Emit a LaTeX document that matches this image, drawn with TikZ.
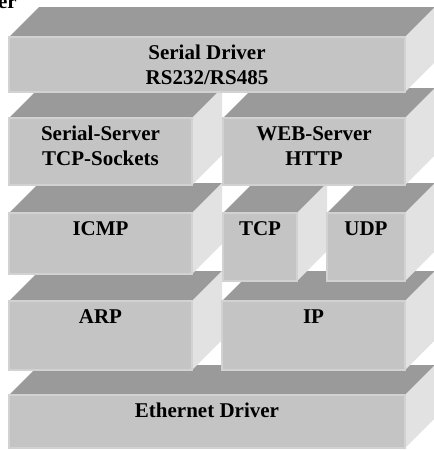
\documentclass[tikz,border=0pt]{standalone}
\usepackage{fontspec}
\setmainfont{Liberation Serif}
\usepackage{tikz}
\usetikzlibrary{positioning}
\usepackage{xcolor}
\definecolor{FaceFront}{HTML}{C4C4C4}
\definecolor{FaceEdge}{HTML}{D2D2D2}
\definecolor{FaceTop}{HTML}{9A9A9A}
\definecolor{FaceSide}{HTML}{E2E2E2}
\tikzset{
  frontface/.style={fill=FaceFront, draw=FaceEdge, line width=1.5},
  topface/.style={fill=FaceTop},
  sideface/.style={fill=FaceSide},
  lbl/.style={anchor=north, inner sep=0pt, align=center,
    font=\bfseries\fontsize{15.75pt}{18.75pt}\selectfont},
}
% slab: name, x1, y1, x2, y2, label (pixel units, y down)
\newcommand{\slab}[6]{%
  \fill[topface] (#2,#3) -- ++(30,-30) -- (#4+30,#3-30) -- (#4,#3) -- cycle;
  \fill[sideface] (#4,#3) -- ++(30,-30) -- (#4+30,#5-30) -- (#4,#5) -- cycle;
  \filldraw[frontface] (#2,#3) rectangle (#4,#5);
  \node[lbl] (#1) at ({(#2+#4)/2},#3+8) {#6};
}

\begin{document}
\begin{tikzpicture}[x=0.75pt, y=-0.75pt]
    \useasboundingbox (0,0) rectangle (434,450);
    % bottom layer first, upper layers cover the top faces below
    \slab{eth}{9}{395}{405}{448}{Ethernet Driver}
    \slab{arp}{9}{301}{192}{370}{ARP}
    \slab{ip}{222}{301}{405}{370}{IP}
    \slab{icmp}{9}{213}{192}{274}{ICMP}
    \slab{tcp}{223}{213}{297}{281}{TCP}
    \slab{udp}{327}{213}{405}{281}{UDP}
    \slab{sersrv}{9}{118}{192}{185}{Serial-Server\\TCP-Sockets}
    \slab{websrv}{223}{118}{405}{185}{WEB-Server\\HTTP}
    \slab{serdrv}{9}{37}{405}{92}{Serial Driver\\RS232/RS485}
    \node[lbl, anchor=base east] (cut) at (17,8) {er};
  \end{tikzpicture}
\end{document}
